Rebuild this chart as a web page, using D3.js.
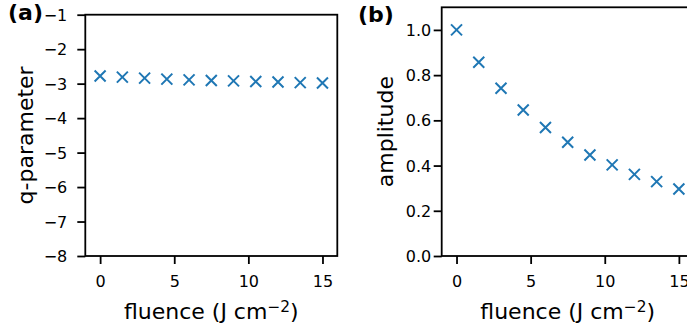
<!DOCTYPE html>
<html>
<head>
<meta charset="utf-8">
<script src="https://cdn.jsdelivr.net/npm/d3@7"></script>
<style>
  html, body { margin: 0; padding: 0; background: #fff; }
  svg { display: block; }
  text { font-family: "DejaVu Sans", sans-serif; fill: #000; }
</style>
</head>
<body>
<svg id="chart" width="687" height="331"></svg>
<script>
// Fluence steps shared by both panels (J cm^-2)
const fluence = [0, 1.5, 3, 4.5, 6, 7.5, 9, 10.5, 12, 13.5, 15];
// Panel (a): fitted q-parameter at each fluence
const qParameter = [-2.78, -2.81, -2.84, -2.87, -2.89, -2.91, -2.92, -2.94, -2.95, -2.97, -2.98];
// Panel (b): normalised amplitude at each fluence
const amplitude = [1.0, 0.857, 0.742, 0.646, 0.568, 0.503, 0.447, 0.403, 0.361, 0.329, 0.296];

const fluenceTicks = [0, 5, 10, 15];
const qTicks = [-1, -2, -3, -4, -5, -6, -7, -8];
const ampTicks = [0.0, 0.2, 0.4, 0.6, 0.8, 1.0];

const blue = "#1f77b4";
const svg = d3.select("#chart");

const minusFmt = d => (d < 0 ? "\u2212" + Math.abs(d) : String(d));

const panels = [
  {
    tag: "(a)", tagX: 8, tagY: 20,
    left: 85.3, right: 337.3, top: 14.7, bottom: 256,
    xDomain: [-1, 16], yDomain: [-8, -1],
    values: qParameter, yTicks: qTicks, yFmt: minusFmt,
    yLabel: "q-parameter", yLabelX: 33, yPad: 10
  },
  {
    tag: "(b)", tagX: 358, tagY: 22,
    left: 441.7, right: 693.7, top: 7.3, bottom: 256,
    xDomain: [-1, 16], yDomain: [0, 1.1],
    values: amplitude, yTicks: ampTicks, yFmt: d3.format(".1f"),
    yLabel: "amplitude", yLabelX: 393, yPad: 2.5
  }
];

const tickLen = 8;
const tickFont = 16;

panels.forEach(p => {
  const x = d3.scaleLinear().domain(p.xDomain).range([p.left, p.right]);
  const y = d3.scaleLinear().domain(p.yDomain).range([p.bottom, p.top]);
  const g = svg.append("g");

  // bottom axis
  g.append("g")
    .attr("transform", `translate(0,${p.bottom})`)
    .call(d3.axisBottom(x).tickValues(fluenceTicks).tickSize(tickLen).tickPadding(11.3).tickFormat(d3.format("d")))
    .call(a => a.select(".domain").remove())
    .call(a => a.selectAll("line").attr("stroke", "#000").attr("stroke-width", 1.8))
    .call(a => a.selectAll("text").attr("font-size", tickFont).attr("font-family", "DejaVu Sans"));

  // left axis
  g.append("g")
    .attr("transform", `translate(${p.left},0)`)
    .call(d3.axisLeft(y).tickValues(p.yTicks).tickSize(tickLen).tickPadding(p.yPad).tickFormat(p.yFmt))
    .call(a => a.select(".domain").remove())
    .call(a => a.selectAll("line").attr("stroke", "#000").attr("stroke-width", 1.8))
    .call(a => a.selectAll("text").attr("font-size", tickFont).attr("dy", "0.35em").attr("font-family", "DejaVu Sans"));

  // frame
  g.append("rect")
    .attr("x", p.left).attr("y", p.top)
    .attr("width", p.right - p.left).attr("height", p.bottom - p.top)
    .attr("fill", "none").attr("stroke", "#000").attr("stroke-width", 1.8);

  // markers
  g.append("g").selectAll("path")
    .data(fluence.map((f, i) => [f, p.values[i]]))
    .join("path")
    .attr("transform", d => `translate(${x(d[0])},${y(d[1])})`)
    .attr("d", "M-5.5,-5.5L5.5,5.5M-5.5,5.5L5.5,-5.5")
    .attr("stroke", blue).attr("stroke-width", 2).attr("fill", "none");

  // x label
  const xl = g.append("text")
    .attr("x", (p.left + p.right) / 2).attr("y", 318.5)
    .attr("text-anchor", "middle").attr("font-size", 22);
  xl.append("tspan").text("fluence (J cm");
  xl.append("tspan").attr("font-size", 15.4).attr("dy", -6.5).text("\u22122");
  xl.append("tspan").attr("dy", 6.5).text(")");

  // y label
  g.append("text")
    .attr("transform", `translate(${p.yLabelX},${(p.top + p.bottom) / 2}) rotate(-90)`)
    .attr("text-anchor", "middle").attr("font-size", 22)
    .text(p.yLabel);

  // panel tag
  g.append("text")
    .attr("x", p.tagX).attr("y", p.tagY)
    .attr("font-size", 22).attr("font-weight", "bold")
    .text(p.tag);
});
</script>
</body>
</html>
